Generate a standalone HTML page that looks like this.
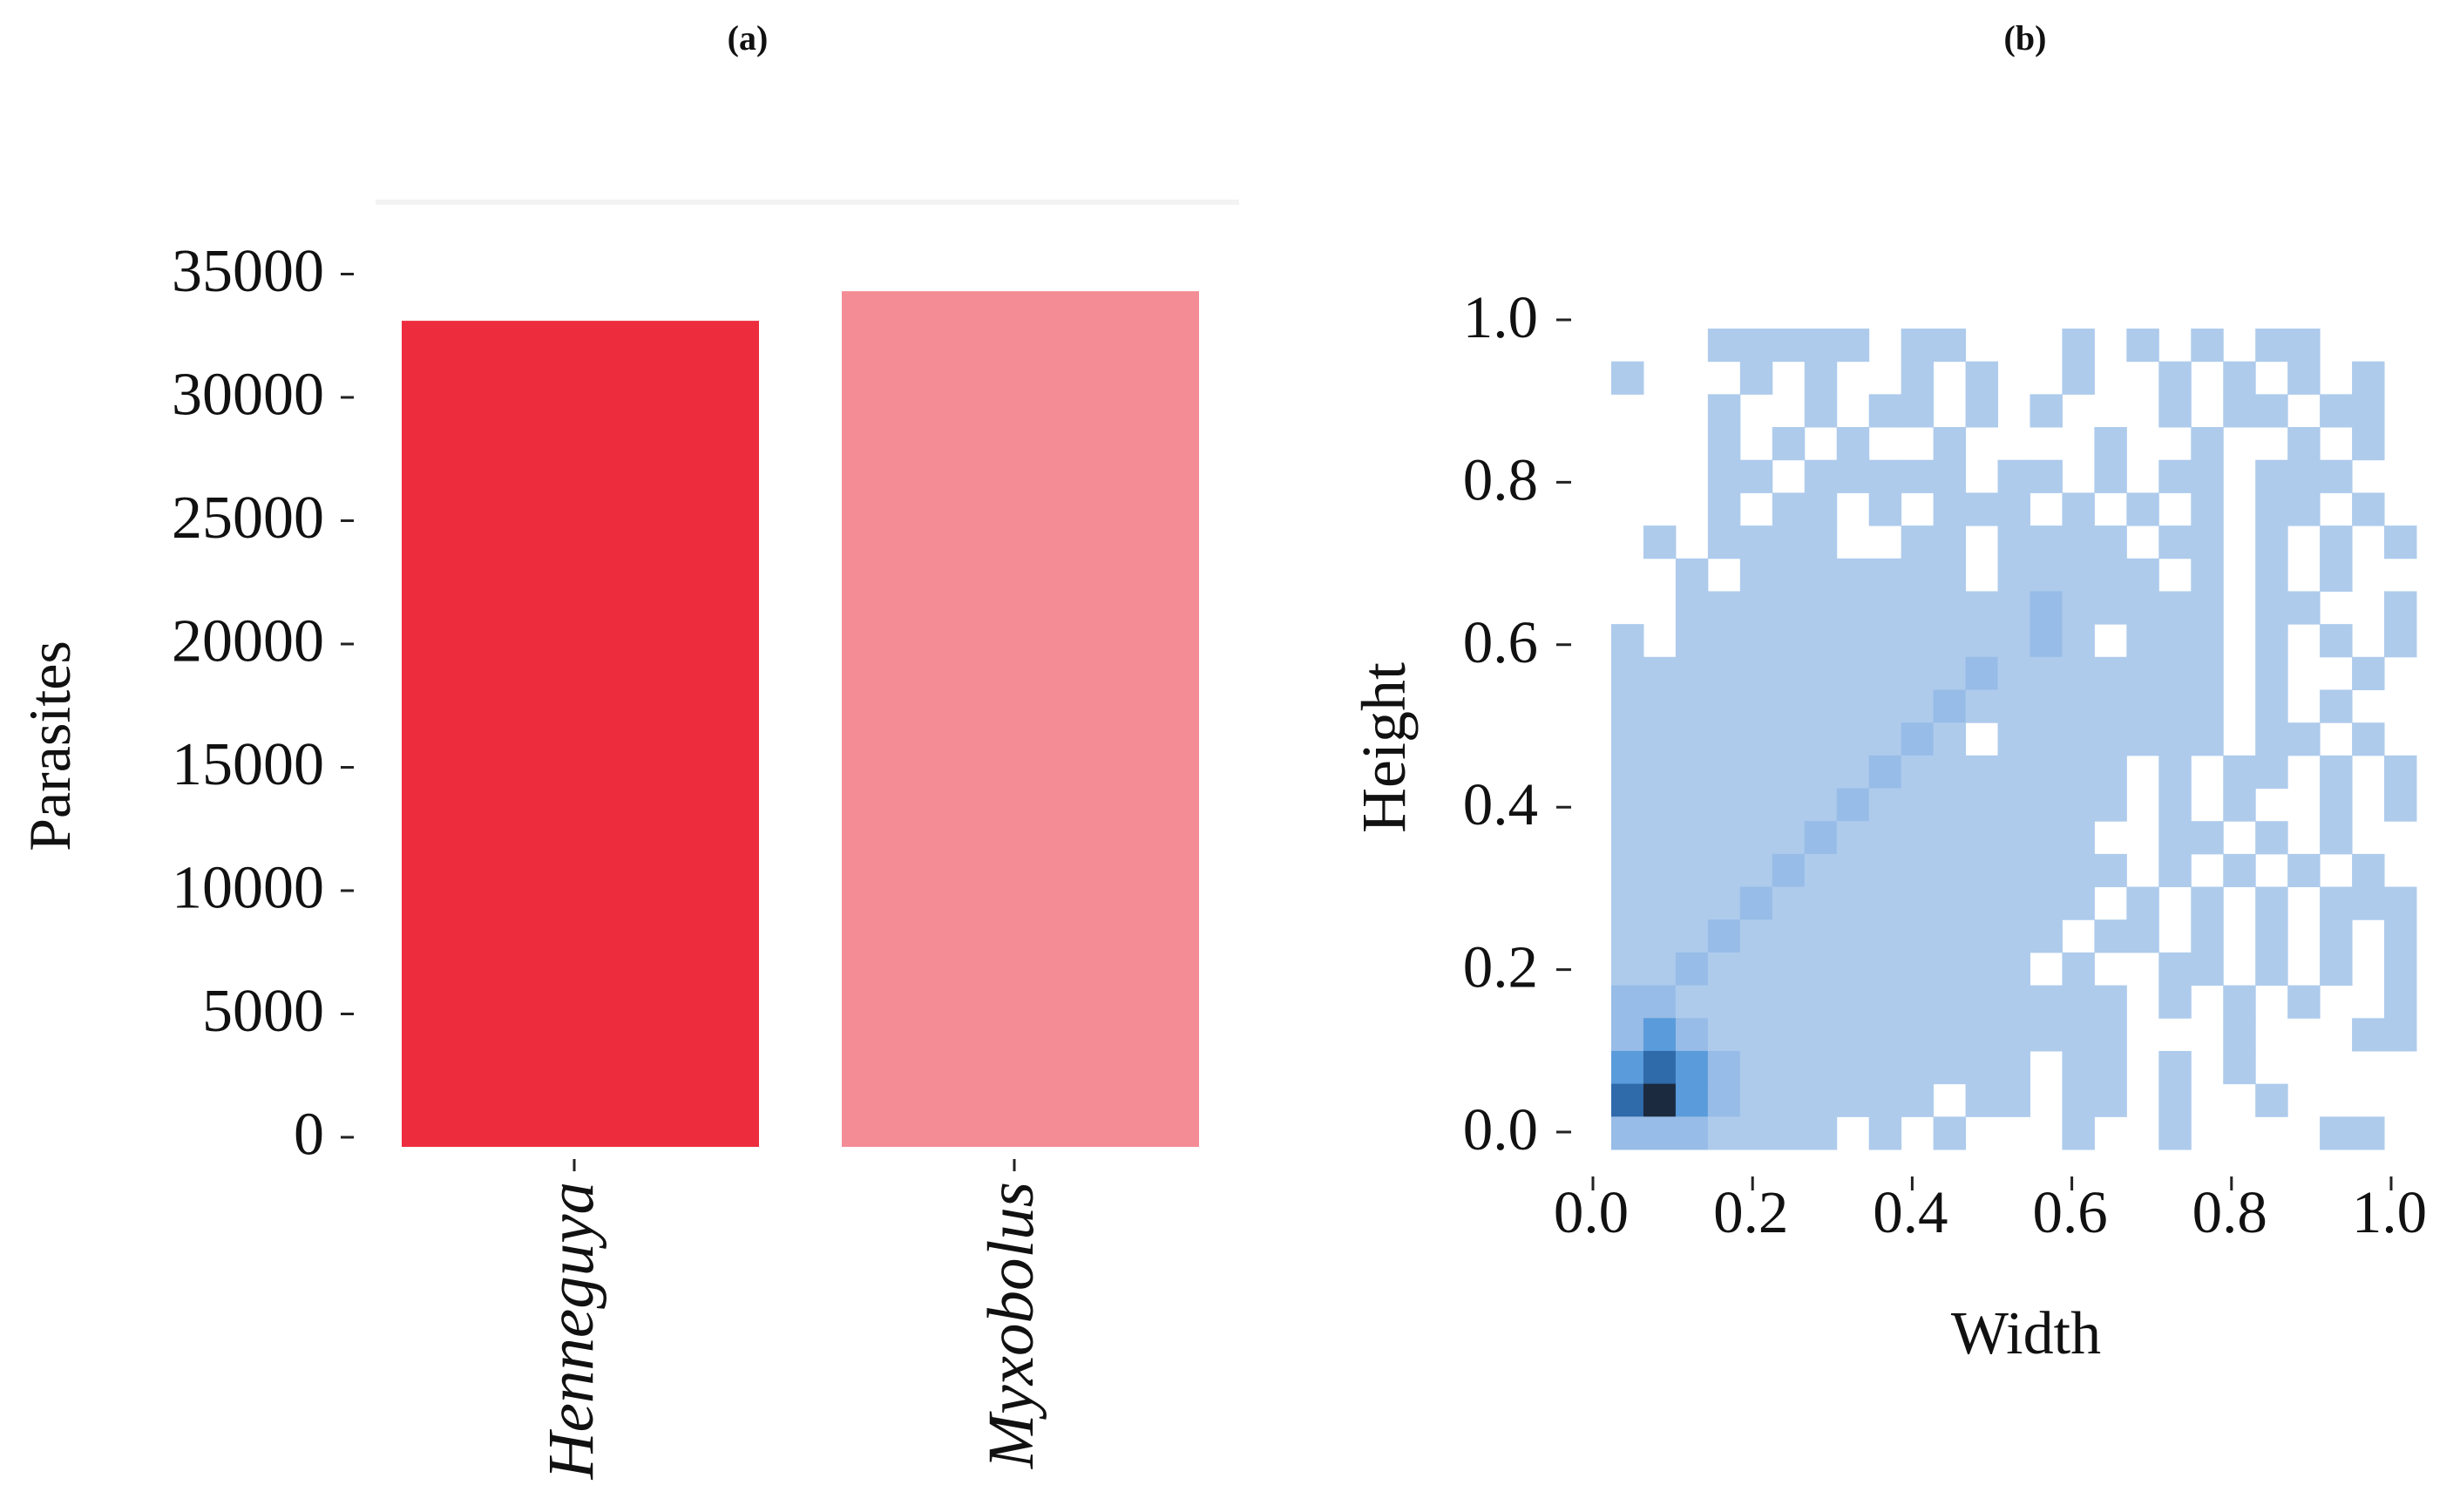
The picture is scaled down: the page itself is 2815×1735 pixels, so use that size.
<!DOCTYPE html>
<html><head><meta charset="utf-8"><style>
html,body{margin:0;padding:0;background:#fff;}
svg{display:block;}
text{font-family:"Liberation Serif",serif;fill:#111;}
</style></head><body>
<svg id="fig" width="2815" height="1735" viewBox="0 0 2815 1735">
<text x="858" y="57" font-size="40" font-weight="bold" text-anchor="middle">(a)</text>
<text x="2324" y="57" font-size="40" font-weight="bold" text-anchor="middle">(b)</text>
<line x1="431" y1="232" x2="1422" y2="232" stroke="#f3f3f3" stroke-width="6"/>
<g id="barG"></g>
<g id="heatG"></g>
<text transform="translate(80,856) rotate(-90)" font-size="68" text-anchor="middle">Parasites</text>
<text transform="translate(1612,858) rotate(-90)" font-size="72" text-anchor="middle">Height</text>
<text x="2325" y="1553" font-size="70" text-anchor="middle">Width</text>
</svg>
<script>
const NS="http://www.w3.org/2000/svg";
const categories=["Henneguya","Myxobolus"];
const parasiteCounts=[33000,34200];
const barColors=["#ed2d3e","#f48c95"];
const yTicksA=[0,5000,10000,15000,20000,25000,30000,35000];
const yTicksB=[0,0.2,0.4,0.6,0.8,1.0];
const xTicksB=[0,0.2,0.4,0.6,0.8,1.0];
// heatmap density levels, rows top (height~1) to bottom (height~0), 25 cols width 0..1
const heatRows=[
"...11111.11...1.1.1.11...",
"1...1.1..1.1..1..1.1.1.1.",
"...1..1.11.1.1...1.11.11.",
"...1.1.1..1....1..1..1.1.",
"...11.11111.11.1.11.111..",
"...1.11.1.111.1.1.1.11.1.",
".1.1111..11.1111.11.1.1.1",
"..1.1111111.11111.1.1.1..",
"..11111111111211111.11..1",
"1.1111111111121.111.1.1.1",
"1111111111121111111.1..1.",
"1111111111211111111.1.1..",
"11111111121.1111111.11.1.",
"1111111121111111.1.11.1.1",
"1111111211111111.1.1..1.1",
"111111211111111..11.1.1..",
"1111121111111111.1.1.1.1.",
"111121111111111.1.1.1.111",
"11121111111111.11.1.1.1.1",
"1121111111111.1..11.1.1.1",
"2211111111111111.1.1.1..1",
"2321111111111111...1...11",
"3432111111111.11.1.1.....",
"4532111111.11.11.1..1....",
"2221111.1.1...1..1....11."
];
const levelColors=["#ffffff","#aecbec","#97bce7","#5a9bdb","#2f6aaa","#1b2a3e"];
function mk(tag,attrs,parent){const e=document.createElementNS(NS,tag);for(const k in attrs)e.setAttribute(k,attrs[k]);parent.appendChild(e);return e;}
// Panel A
const gA=document.getElementById('barG');
const yA=v=>1302-v/5000*141.5;
const bandX=[461,966],bandW=410;
const xA=i=>bandX[i];
yTicksA.forEach(v=>{
 const t=mk('text',{x:372,y:yA(v),'font-size':70,'text-anchor':'end','dominant-baseline':'central'},gA);
 t.textContent=v;
 
 
 const l=mk('line',{x1:391,x2:406,y1:yA(v)+3,y2:yA(v)+3,stroke:'#222','stroke-width':3},gA);
 
 
});
categories.forEach((c,i)=>{
 const r=mk('rect',{x:xA(i),y:yA(parasiteCounts[i]),width:bandW,height:1316-yA(parasiteCounts[i]),fill:barColors[i]},gA);
 
 
 const cx=xA(i)+bandW/2;
 const tk=mk('line',{x1:cx-7,x2:cx-7,y1:1330,y2:1344,stroke:'#222','stroke-width':3},gA);
 
 
 const t=mk('text',{transform:`translate(${cx+14},1356) rotate(-90)`,'font-size':75,'font-style':'italic','text-anchor':'end'},gA);
 t.textContent=c;
 
 
});
// Panel B
const gB=document.getElementById('heatG');
const xB=v=>1849+v*924;          // heatmap extent
const yB=v=>1319-v*942;
const xTk=v=>1826+v*916;         // tick axis
const yTk=v=>1296-v*932;
const nC=25,nR=heatRows.length;
const cw=1/nC, ch=1/nR;
heatRows.forEach((row,r)=>{
 for(let c=0;c<Math.min(nC,row.length);c++){
  const ch1=row[c]; if(ch1==='.')continue;
  const lv=parseInt(ch1,10);
  const vx=c*cw, vyTop=(nR-r)*ch;
  const rc=mk('rect',{x:xB(vx),y:yB(vyTop),width:xB(vx+cw)-xB(vx)+0.5,height:yB(vyTop-ch)-yB(vyTop)+0.5,fill:levelColors[lv]},gB);
  
  
 }
});
yTicksB.forEach(v=>{
 const t=mk('text',{x:1765,y:yTk(v),'font-size':69,'text-anchor':'end','dominant-baseline':'central'},gB);
 t.textContent=v.toFixed(1);
 
 
 const l=mk('line',{x1:1786,x2:1803,y1:yTk(v)+3,y2:yTk(v)+3,stroke:'#222','stroke-width':3},gB);
 
 
});
xTicksB.forEach(v=>{
 const t=mk('text',{x:xTk(v),y:1414,'font-size':69,'text-anchor':'middle'},gB);
 t.textContent=v.toFixed(1);
 
 
 const l=mk('line',{x1:xTk(v)+2,x2:xTk(v)+2,y1:1350,y2:1366,stroke:'#222','stroke-width':3},gB);
 
 
});
</script>
</body></html>
